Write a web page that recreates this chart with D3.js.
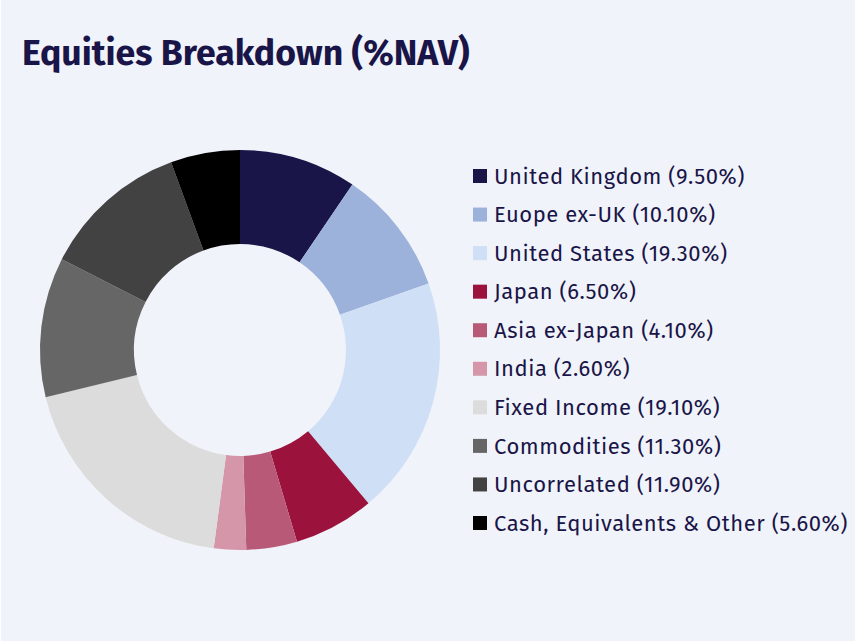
<!DOCTYPE html>
<html>
<head>
<meta charset="utf-8">
<script src="https://cdn.jsdelivr.net/npm/d3@7"></script>
<style>
  body { margin: 0; background: #ffffff; }
  #cont { width: 855px; height: 642px; }
</style>
</head>
<body>
<div id="cont"></div>
<script>
// data //
var categories = ["United Kingdom", "Euope ex-UK", "United States", "Japan", "Asia ex-Japan",
  "India", "Fixed Income", "Commodities", "Uncorrelated", "Cash, Equivalents & Other"];
var values = [9.5, 10.1, 19.3, 6.5, 4.1, 2.6, 19.1, 11.3, 11.9, 5.6];
var colours = ["#1a1548", "#9db2db", "#cfdff5", "#9b123c", "#b85a77",
  "#d496a8", "#dcdcdc", "#666666", "#424242", "#000000"];

var W = 855, H = 642;
var ink = "#1a1548";
var font = "'Fira Sans', 'Noto Sans', 'Open Sans', sans-serif";

var svg = d3.select("#cont").append("svg").attr("width", W).attr("height", H);

svg.append("rect").attr("x", 1).attr("y", 0).attr("width", W - 1).attr("height", H - 1)
  .attr("fill", "#f0f3f9");

svg.append("text")
  .attr("x", 22).attr("y", 65)
  .attr("fill", ink)
  .attr("font-family", font)
  .attr("font-weight", "bold")
  .attr("font-size", 35.6)
  .text("Equities Breakdown (%NAV)");

// donut //
var cx = 240, cy = 350;
var pie = d3.pie().sort(null).value(function(d) { return d; });
var arc = d3.arc().innerRadius(106).outerRadius(200);

var g = svg.append("g").attr("transform", "translate(" + cx + "," + cy + ")");
g.selectAll("path").data(pie(values)).enter().append("path")
  .attr("d", arc)
  .attr("fill", function(d, i) { return colours[i]; });

// legend //
var y = d3.scalePoint().domain(d3.range(categories.length)).range([176, 523]);

var leg = svg.append("g");
var row = leg.selectAll("g").data(categories).enter().append("g")
  .attr("transform", function(d, i) { return "translate(473," + y(i) + ")"; });

row.append("rect").attr("x", 0).attr("y", -7).attr("width", 14).attr("height", 14)
  .attr("fill", function(d, i) { return colours[i]; });

row.append("text")
  .attr("x", 21).attr("y", 0).attr("dy", "0.35em")
  .attr("fill", ink)
  .attr("font-family", font)
  .attr("font-weight", 400)
  .attr("font-size", 22)
  .attr("letter-spacing", 0.55)
  .text(function(d, i) { return d + " (" + values[i].toFixed(2) + "%)"; });
</script>
</body>
</html>
